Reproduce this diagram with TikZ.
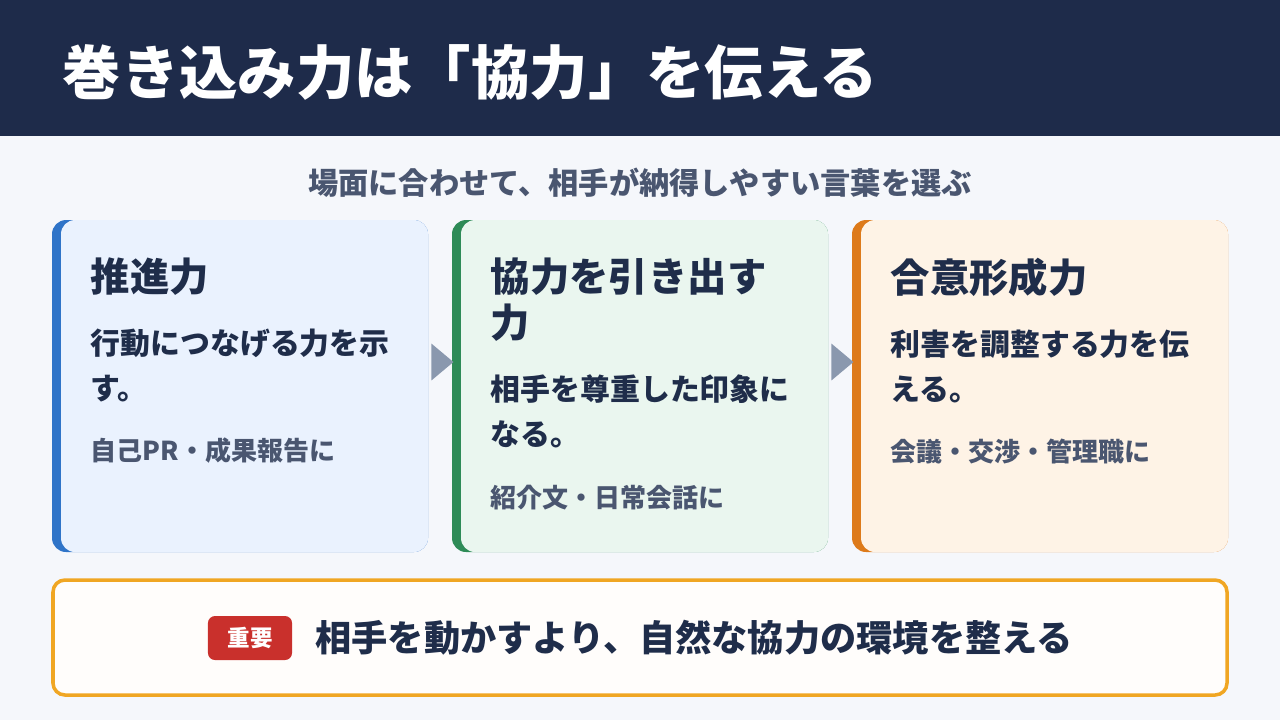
\documentclass[tikz,border=0pt]{standalone}
\usepackage{fontspec}
\setmainfont{Noto Sans CJK JP}
\usetikzlibrary{positioning, shapes.geometric}
\definecolor{navy}{HTML}{1E2B4A}
\definecolor{pagebg}{HTML}{F5F7FB}
\definecolor{txt}{HTML}{1F2D4A}
\definecolor{subtxt}{HTML}{4A5670}
\definecolor{blueacc}{HTML}{2F74C8}
\definecolor{bluefill}{HTML}{EAF2FE}
\definecolor{greenacc}{HTML}{2E8B57}
\definecolor{greenfill}{HTML}{EAF6EF}
\definecolor{orangeacc}{HTML}{DD7A1A}
\definecolor{orangefill}{HTML}{FEF3E6}
\definecolor{gold}{HTML}{F0A623}
\definecolor{badgered}{HTML}{C9302C}
\definecolor{arrowgray}{HTML}{8A98AE}
\tikzset{
  head/.style={anchor=north west, align=left, text=txt, inner sep=0pt,
    font=\fontsize{11.2pt}{13.2pt}\selectfont\bfseries},
  body/.style={below=9pt of #1.south west, anchor=north west, align=left, text=txt, inner sep=0pt,
    font=\fontsize{8.5pt}{12.8pt}\selectfont\bfseries},
  note/.style={below=10pt of #1.south west, anchor=north west, align=left, text=subtxt, inner sep=0pt,
    font=\fontsize{7.4pt}{9pt}\selectfont\bfseries},
  flowtip/.style={isosceles triangle, isosceles triangle apex angle=80, fill=arrowgray,
    inner sep=0pt, minimum height=0.22cm, minimum width=0.26cm}
}
\newcommand{\card}[3]{%
  \fill[#2, rounded corners=4pt] (#1,220) rectangle ++(376,332);
  \fill[#3, rounded corners=4pt] (#1+9,220) rectangle ++(367,332);
}
\begin{document}
\begin{tikzpicture}[x=0.01cm, y=-0.01cm]
  \useasboundingbox (0,0) rectangle (1280,720);
  \fill[pagebg] (0,0) rectangle (1280,720);
  \fill[navy] (0,0) rectangle (1280,136);
  \node (title) [anchor=west, text=white, inner sep=0pt,
    font=\fontsize{16.6pt}{19pt}\selectfont\bfseries] at (62,72) {巻き込み力は「協力」を伝える};
  \node (lead) [text=subtxt, inner sep=0pt,
    font=\fontsize{8.6pt}{10pt}\selectfont\bfseries] at (640,183) {場面に合わせて、相手が納得しやすい言葉を選ぶ};

  % cards
  \card{52}{blueacc}{bluefill}
  \card{452}{greenacc}{greenfill}
  \card{852}{orangeacc}{orangefill}

  \node (pushhead) [head] at (90,257) {推進力};
  \node (pushbody) [body=pushhead] {行動につなげる力を示\\す。};
  \node (pushnote) [note=pushbody] {自己PR・成果報告に};

  \node (coophead) [head] at (490,257) {協力を引き出す\\力};
  \node (coopbody) [body=coophead] {相手を尊重した印象に\\なる。};
  \node (coopnote) [note=coopbody] {紹介文・日常会話に};

  \node (agreehead) [head] at (890,257) {合意形成力};
  \node (agreebody) [body=agreehead] {利害を調整する力を伝\\える。};
  \node (agreenote) [note=agreebody] {会議・交渉・管理職に};

  \node (tipa) [flowtip] at (440,362) {};
  \node (tipb) [flowtip] at (840,362) {};

  % key message
  \draw[gold, line width=1pt, fill=white!60!orangefill!40, rounded corners=3.4pt]
    (53,580) rectangle (1227,695);
  \node (badge) [fill=badgered, text=white, rounded corners=2pt, minimum width=0.84cm, minimum height=0.44cm,
    inner sep=0pt, font=\fontsize{6.4pt}{8pt}\selectfont\bfseries] at (250,638) {重要};
  \node (key) [right=0.22cm of badge, text=txt, inner sep=0pt,
    font=\fontsize{10.3pt}{12pt}\selectfont\bfseries] {相手を動かすより、自然な協力の環境を整える};
\end{tikzpicture}
\end{document}
